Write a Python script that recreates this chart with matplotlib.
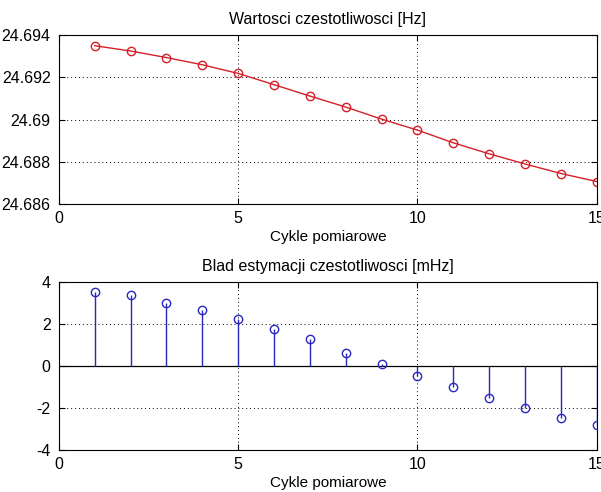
import numpy as np
import matplotlib.pyplot as plt
from matplotlib.ticker import FuncFormatter

plt.rcParams['font.family'] = ['Liberation Sans', 'DejaVu Sans']
plt.rcParams['font.size'] = 11
plt.rcParams['axes.unicode_minus'] = False

# data
cykle = np.arange(1, 16)
czest = [24.69349, 24.69324, 24.69293, 24.69259, 24.69218, 24.69165, 24.69111,
         24.69059, 24.69002, 24.68950, 24.68890, 24.68838, 24.68790, 24.68745,
         24.68707]
blad = [3.52, 3.37, 3.0, 2.64, 2.24, 1.76, 1.26, 0.64, 0.11, -0.48, -1.0,
        -1.52, -2.0, -2.48, -2.82]

xticks = [0, 5, 10, 15]
yticks1 = [24.686, 24.688, 24.69, 24.692, 24.694]
yticks2 = [-4, -2, 0, 2, 4]

fig = plt.figure(figsize=(6.01, 4.92), dpi=100)
ax1 = fig.add_axes([0.098, 0.585, 0.895, 0.344])
ax2 = fig.add_axes([0.098, 0.0854, 0.895, 0.3416])

red = '#d42028'
blue = '#2828c0'


def style(ax):
    ax.tick_params(direction='in', top=True, right=True, length=4, width=0.8,
                   labelsize=11.5, pad=5)
    ax.tick_params(axis='y', pad=6)
    ax.grid(True, color='k', linestyle=(0, (1, 3)), linewidth=0.7)
    for s in ax.spines.values():
        s.set_linewidth(0.8)
    ax.set_xlim(0, 15)
    ax.set_xticks(xticks)
    ax.set_xlabel('Cykle pomiarowe', fontsize=11, labelpad=3)


# top: frequency values
ax1.plot(cykle, czest, '-o', color=red, ms=6, mfc='none', mec=red, lw=1)
style(ax1)
ax1.set_ylim(24.686, 24.694)
ax1.set_yticks(yticks1)
ax1.yaxis.set_major_formatter(FuncFormatter(lambda v, p: ('%.3f' % v).rstrip('0')))
ax1.set_title('Wartosci czestotliwosci [Hz]', fontsize=11.5, pad=8)

# bottom: estimation error stem
ax2.axhline(0, color='k', linewidth=0.9, zorder=2)
ml, sl, bl = ax2.stem(cykle, blad, basefmt=' ')
plt.setp(ml, color=blue, mfc='none', mec=blue, ms=6, zorder=3)
plt.setp(sl, color=blue, linewidth=1)
style(ax2)
ax2.set_ylim(-4, 4)
ax2.set_yticks(yticks2)
ax2.set_title('Blad estymacji czestotliwosci [mHz]', fontsize=11.5, pad=8)

fig.savefig('out.png', dpi=100)
